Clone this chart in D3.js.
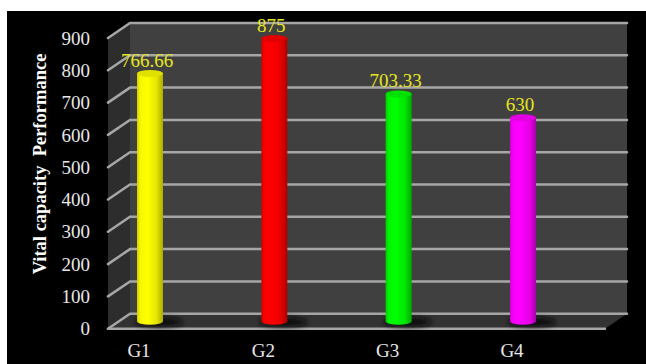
<!DOCTYPE html>
<html><head><meta charset="utf-8">
<script src="https://cdn.jsdelivr.net/npm/d3@7"></script>
<style>html,body{margin:0;padding:0;background:#fff;}svg{display:block;}</style>
</head><body>
<script>
const categories = ["G1","G2","G3","G4"];
const values = [766.66, 875, 703.33, 630];
const valueLabels = ["766.66","875","703.33","630"];
const barColors = ["#ffff00","#ff0000","#00ff00","#ff00ff"];
const yTicks = [0,100,200,300,400,500,600,700,800,900];
const yTitle = "Vital capacity\u00a0\u00a0Performance";

const W = 646, H = 364;
const svg = d3.select("body").append("svg").attr("width", W).attr("height", H);
svg.append("rect").attr("x", 7).attr("y", 11).attr("width", W - 7).attr("height", H - 11).attr("fill", "#000");

const dx = 22, dy = 15; // depth offset (back wall is up-right of front)
const y = d3.scaleLinear().domain([0, 900]).range([313.7, 23]); // back wall
const backL = 130, backR = 627;
const frontL = backL - dx, frontR = 605;
const x = d3.scalePoint().domain(categories).range([139, 512]); // front edge positions

const defs = svg.append("defs");
// walls
svg.append("rect").attr("x", backL).attr("y", y(900)).attr("width", backR - backL).attr("height", y(0) - y(900)).attr("fill", "#404040");
svg.append("path").attr("d", `M${frontL},${y(900)+dy}L${backL},${y(900)}L${backL},${y(0)}L${frontL},${y(0)+dy}Z`).attr("fill", "#2d2d2d");
svg.append("path").attr("d", `M${frontL},${y(0)+dy}L${backL},${y(0)}L${backR},${y(0)}L${frontR},${y(0)+dy}Z`).attr("fill", "#333333");

// gridlines
const grid = svg.append("g").attr("stroke", "#a6a6a6").attr("stroke-width", 2.5).attr("fill", "none").attr("stroke-linecap", "round");
yTicks.forEach(t => {
  grid.append("path").attr("d", `M${frontL},${y(t)+dy}L${backL},${y(t)}L${backR},${y(t)}`);
});
grid.append("path").attr("d", `M${frontL},${y(0)+dy}L${frontR},${y(0)+dy}`);

// y tick labels
svg.append("g").selectAll("text").data(yTicks).join("text")
  .attr("x", 90).attr("y", d => y(d) + dy).attr("dy", "0.35em")
  .attr("text-anchor", "end").attr("fill", "#e8e8e8")
  .attr("font-family", "'Liberation Serif','Times New Roman',serif").attr("font-size", 19)
  .text(d => d);

// y title
svg.append("text").attr("transform", `translate(46,164) rotate(-90)`)
  .attr("text-anchor", "middle").attr("fill", "#fff").attr("font-weight", "bold")
  .attr("font-family", "'Liberation Serif','Times New Roman',serif").attr("font-size", 18.5)
  .text(yTitle);

// x labels
svg.append("g").selectAll("text").data(categories).join("text")
  .attr("x", d => x(d)).attr("y", 357).attr("text-anchor", "middle").attr("fill", "#e8e8e8")
  .attr("font-family", "'Liberation Serif','Times New Roman',serif").attr("font-size", 19)
  .text(d => d);

// shadow filter
const f = defs.append("filter").attr("id", "blur").attr("x", "-50%").attr("y", "-50%").attr("width", "200%").attr("height", "200%");
f.append("feGaussianBlur").attr("stdDeviation", 2.5);

// cylinders
const bw = 26, ry = 3.5;
const mid = v => y(v) + dy / 2;
const bars = svg.append("g");
categories.forEach((c, i) => {
  const col = d3.color(barColors[i]);
  const g = defs.append("linearGradient").attr("id", "cg" + i).attr("x1", 0).attr("x2", 1).attr("y1", 0).attr("y2", 0);
  g.append("stop").attr("offset", 0).attr("stop-color", col.darker(0.6));
  g.append("stop").attr("offset", 0.12).attr("stop-color", col.darker(0.1));
  g.append("stop").attr("offset", 0.4).attr("stop-color", col);
  g.append("stop").attr("offset", 0.75).attr("stop-color", col.darker(0.3));
  g.append("stop").attr("offset", 1).attr("stop-color", col.darker(1.1));
  const cx = x(c) + dx / 2;
  const top = mid(values[i]), bot = mid(0);
  bars.append("ellipse").attr("cx", cx + 9).attr("cy", bot + 1).attr("rx", 24).attr("ry", 5)
    .attr("fill", "#111").attr("filter", "url(#blur)");
  bars.append("path")
    .attr("d", `M${cx-bw/2},${top}L${cx-bw/2},${bot}A${bw/2},${ry} 0 0 0 ${cx+bw/2},${bot}L${cx+bw/2},${top}Z`)
    .attr("fill", `url(#cg${i})`);
  bars.append("ellipse").attr("cx", cx).attr("cy", top).attr("rx", bw / 2).attr("ry", ry)
    .attr("fill", col.darker(0.35));
  svg.append("text").attr("x", cx - 3).attr("y", top - 7).attr("text-anchor", "middle")
    .attr("fill", "#e6e61e").attr("font-family", "'Liberation Serif','Times New Roman',serif").attr("font-size", 19)
    .text(valueLabels[i]);
});
</script>
</body></html>
